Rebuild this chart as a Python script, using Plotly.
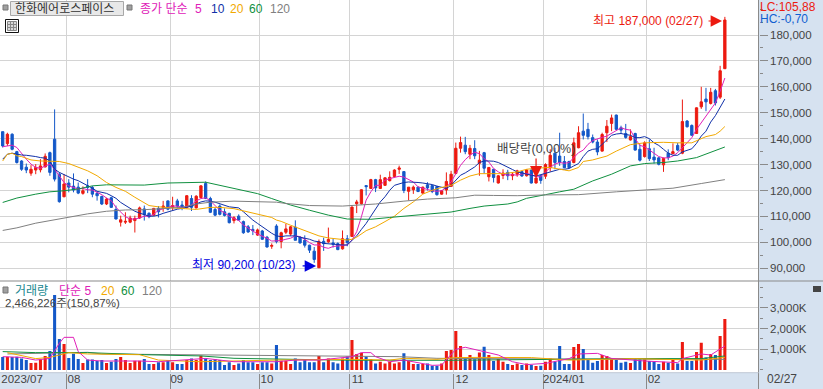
import plotly.graph_objects as go

W, H = 823, 389
# candles, thousands of won, one entry per trading day
opens = [142.7,138.1,141.7,135.0,131.4,129.0,126.7,127.9,128.0,129.1,
134.6,139.8,126.3,117.6,122.9,121.7,121.3,118.9,121.8,121.2,
118.9,117.7,114.8,117.2,112.7,107.8,107.8,107.8,108.4,109.4,
112.9,111.2,110.5,113.1,113.5,116.0,113.5,116.0,114.4,113.5,
116.9,113.3,117.3,122.7,116.9,112.7,114.0,111.8,111.2,108.4,
110.1,108.0,106.0,105.0,102.8,104.4,102.0,98.5,106.3,100.3,
103.9,103.2,105.9,102.0,100.8,98.9,96.6,90.2,100.4,100.2,
99.8,99.5,97.5,101.4,102.3,114.9,114.9,121.9,120.8,124.2,
120.8,122.0,123.8,125.4,128.2,127.3,119.7,120.3,121.3,119.0,
122.2,121.9,121.5,118.6,120.2,121.6,126.6,136.3,137.5,134.0,
136.2,130.5,134.6,125.3,128.2,122.9,125.8,127.0,125.7,126.3,
127.3,125.7,127.9,122.9,125.7,125.5,128.8,134.4,133.3,131.2,
131.2,130.8,136.5,142.9,143.6,140.4,138.7,135.2,142.3,145.9,
149.1,144.2,142.0,139.5,142.0,135.9,133.1,136.1,132.9,132.6,
129.9,134.4,134.2,137.4,134.4,146.8,145.1,142.0,152.3,155.3,
153.6,158.5,156.0,167.0]
closes = [137.2,141.7,135.9,130.8,128.2,127.9,128.2,128.9,129.5,133.2,
127.0,124.4,115.7,122.5,121.3,120.2,119.0,119.9,121.2,118.6,
118.0,114.8,116.7,113.5,109.0,108.7,108.1,109.4,109.2,113.3,
110.7,109.9,113.1,111.8,114.0,112.8,114.2,114.0,113.5,118.0,
113.5,117.8,121.8,116.9,111.6,110.5,110.8,110.4,107.6,109.5,
108.6,103.7,104.0,104.5,104.8,101.2,98.2,98.8,100.3,103.7,
105.2,106.0,100.8,99.8,98.9,97.0,93.4,100.2,99.5,101.1,
99.3,97.2,101.4,99.9,113.6,115.6,120.3,121.5,124.2,121.0,
124.2,124.9,125.1,127.9,128.7,120.0,121.3,121.3,119.6,121.3,
121.0,119.6,118.4,119.9,123.5,126.3,136.3,138.5,135.0,136.3,
133.4,131.7,128.6,128.9,125.0,125.7,126.7,125.7,126.3,127.6,
125.6,127.9,122.9,124.8,123.9,130.0,133.6,130.8,130.8,128.8,
128.8,138.4,142.3,141.3,140.8,138.7,134.9,141.6,144.8,148.0,
143.6,143.3,140.5,140.8,135.6,131.7,138.4,132.3,131.8,130.1,
132.4,132.7,135.0,135.6,146.6,144.6,141.3,151.9,154.2,154.2,
157.9,153.8,166.2,185.8]
highs = [142.7,142.3,142.1,135.3,131.7,130.4,129.8,130.2,132.1,134.3,
135.0,151.3,127.0,126.3,124.4,126.6,123.1,121.6,124.4,121.8,
119.7,118.0,117.2,117.6,114.2,110.3,111.6,110.3,110.3,113.8,
114.2,111.6,113.3,114.0,116.0,116.2,117.6,116.8,116.0,118.2,
118.2,118.2,122.0,123.5,117.6,113.3,114.6,113.1,111.4,110.1,
110.8,108.4,106.7,106.7,105.3,104.8,102.5,99.6,107.0,104.1,
107.1,106.3,108.5,102.3,102.7,99.1,98.2,101.1,101.8,105.7,
101.4,100.0,104.6,102.8,113.9,116.4,120.5,121.9,124.5,124.5,
126.1,125.1,127.4,128.2,129.6,127.3,121.3,121.9,121.5,121.5,
123.2,122.2,121.8,120.2,127.0,127.6,138.5,140.8,140.7,137.6,
139.4,135.3,134.9,128.9,128.2,126.0,128.2,128.0,127.0,128.0,
127.6,128.2,128.1,125.5,126.0,130.5,135.9,136.5,142.3,133.3,
131.5,140.4,144.8,149.7,146.1,141.6,139.7,142.3,147.2,149.3,
149.3,145.0,145.7,143.6,142.3,137.8,139.0,139.7,136.5,132.9,
132.7,135.9,138.2,138.4,155.1,147.2,145.5,152.1,160.0,159.6,
159.6,159.2,168.1,187.0]
lows = [136.6,137.2,135.5,130.4,127.6,126.7,125.7,126.3,127.0,128.9,
125.7,123.5,115.3,117.4,119.3,119.3,118.6,118.4,119.0,117.4,
116.1,114.4,114.4,113.3,108.9,106.1,107.1,107.4,103.8,109.0,
108.4,109.3,110.3,109.6,111.8,112.4,112.4,113.1,112.4,113.1,
112.1,113.1,117.0,116.7,111.3,110.1,110.4,110.0,107.3,107.3,
108.4,103.3,103.7,102.8,102.5,100.9,98.0,97.5,99.6,97.7,
103.2,102.5,100.8,99.5,98.0,95.9,92.1,90.2,96.7,99.8,
98.0,97.0,97.2,98.5,102.1,111.3,114.6,118.1,120.6,119.4,
120.6,121.8,123.5,125.1,126.4,119.0,116.2,118.7,119.4,118.7,
120.0,119.0,118.0,118.4,118.4,121.5,126.3,134.6,134.0,132.1,
132.1,125.7,126.6,123.5,123.1,122.7,124.4,124.0,124.0,125.3,
125.3,125.4,122.7,122.7,122.6,124.5,127.3,128.2,129.5,128.6,
128.6,130.5,136.3,139.7,139.7,138.2,133.6,135.0,138.7,142.9,
143.3,142.0,140.0,139.3,135.4,131.2,132.7,131.4,130.4,129.7,
127.2,131.7,134.2,135.2,134.0,144.3,141.0,141.9,151.5,150.6,
153.2,152.8,155.3,167.0]
# volume, thousands of shares
volumes = [630,640,630,640,560,480,340,350,510,680,
920,3630,1500,1260,580,790,530,340,510,510,
440,480,340,400,530,630,480,340,450,450,
530,290,290,370,370,480,370,290,290,480,
560,480,690,560,480,520,480,240,370,240,
320,480,370,370,290,370,370,320,1210,450,
450,290,560,370,480,370,370,680,370,560,
370,320,560,650,1450,770,840,650,520,320,
400,320,400,320,370,810,450,290,290,290,
320,210,210,320,920,970,1890,1160,560,730,
520,850,1130,730,440,530,400,290,240,320,
240,320,240,190,210,400,560,400,1160,290,
290,1110,1260,1020,520,350,440,730,680,560,
480,350,400,340,520,520,520,440,400,290,
400,350,480,320,1350,440,440,870,1320,610,
770,730,1650,2466]
# price moving averages
ma5 = [136.9,137.3,137.5,136.6,134.3,132.1,130.2,128.9,128.6,129.3,
130.2,128.2,125.7,123.1,121.8,121.2,120.6,120.8,120.3,120.2,
119.3,118.4,117.1,116.1,113.5,111.6,109.9,109.0,109.0,109.4,
110.1,110.1,110.8,112.4,113.1,113.5,114.0,114.0,113.5,113.7,
114.4,116.0,116.9,117.2,116.0,114.0,112.4,111.4,110.1,109.2,
108.4,106.7,105.4,104.4,103.2,102.5,101.6,100.5,100.7,100.7,
101.2,101.6,102.5,102.2,101.2,99.9,99.0,99.0,98.1,97.7,
98.4,98.6,98.9,99.0,100.9,104.1,109.9,116.3,119.5,122.0,
122.0,124.0,124.6,125.2,125.5,125.2,124.2,123.3,121.4,120.8,
120.4,119.9,119.7,119.9,121.2,123.3,126.8,129.7,131.9,133.6,
134.8,134.2,132.3,131.0,128.5,127.2,126.3,125.9,126.1,125.9,
126.4,126.6,126.1,125.3,125.3,127.0,128.9,130.2,130.8,130.5,
130.8,132.7,134.6,135.6,137.8,139.3,140.0,140.5,141.0,142.0,
143.3,144.2,143.6,143.3,140.0,137.4,136.9,135.6,134.1,133.1,
132.6,132.6,133.3,134.6,136.5,138.4,140.4,143.6,146.1,148.4,
151.2,153.8,158.3,163.4]
ma10 = [132.1,134.0,134.4,134.0,133.7,133.6,133.4,133.1,132.7,132.5,
131.4,128.2,127.0,126.1,125.3,124.4,123.8,122.9,121.8,120.9,
119.7,119.3,118.9,118.0,117.0,115.4,114.2,112.9,112.0,111.3,
110.7,110.1,110.1,110.5,111.2,111.8,112.4,112.8,113.1,113.5,
114.0,114.8,115.6,116.0,115.9,115.5,115.0,114.4,113.7,113.5,
113.3,111.8,110.1,108.6,107.3,106.0,104.8,103.5,102.5,102.2,
102.5,102.6,102.5,102.0,101.6,101.2,100.5,100.2,99.6,99.4,
99.3,99.1,99.0,99.0,100.7,102.5,105.0,107.3,110.1,113.1,
115.6,117.6,120.1,122.0,122.7,123.1,123.3,123.3,123.1,122.9,
122.7,122.3,121.7,121.2,120.8,122.0,124.0,125.9,126.8,127.8,
129.1,130.8,131.4,131.4,131.3,130.8,130.0,129.1,128.1,127.2,
126.7,126.3,125.9,125.6,126.1,126.7,127.2,127.9,128.2,128.2,
128.5,129.5,130.4,133.1,135.2,135.9,136.1,137.8,139.5,141.3,
141.8,142.0,141.6,141.3,140.4,140.4,140.8,140.0,138.4,137.4,
135.9,134.4,133.6,133.6,134.9,135.6,136.1,138.2,141.0,142.9,
146.4,148.9,151.9,155.3]
ma20_idx = [0,1,2,3,4,6,8,10,12,14,16,18,20,22,24,26,28,30,31,33,35,38,41,44,46,49,52,54,57,58,59,61,63,65,67,69,71,73,74,75,77,79,81,83,85,87,89,91,93,95,97,99,101,103,106,109,111,113,116,119,120,122,123,125,128,130,133,136,140,143,146,149,151,152,153]
ma20 = [131.4,134.0,134.4,133.4,133.1,131.8,131.4,131.4,131.2,130.4,128.9,127.6,125.7,123.1,121.2,119.7,117.4,115.4,114.2,113.7,113.5,113.0,112.7,113.5,113.5,113.0,111.8,110.9,109.6,108.6,108.1,106.6,105.3,103.7,102.5,101.7,101.2,100.9,101.2,102.0,104.5,106.0,108.0,110.1,113.1,115.6,118.6,120.1,121.2,122.0,124.0,125.6,126.5,126.5,126.5,127.2,128.2,128.6,128.9,127.9,127.6,128.9,131.2,131.8,133.3,135.2,137.7,138.4,138.6,138.4,138.4,140.8,141.6,142.9,144.7]
ma60_idx = [0,3,7,10,13,16,19,22,30,35,43,49,54,57,61,65,69,73,78,82,87,92,95,99,102,107,109,111,113,115,118,121,125,129,133,136,140,143,147,150,153]
ma60 = [115.4,117.1,118.6,119.5,119.9,120.6,121.8,122.2,122.1,122.9,123.2,120.8,118.8,116.9,114.4,112.4,110.5,109.0,108.9,109.6,110.5,111.4,111.7,113.1,114.0,114.8,115.6,117.0,117.6,118.4,119.5,120.5,123.7,126.3,129.5,130.4,130.8,131.4,132.7,134.9,136.8]
ma120_idx = [0,3,7,10,14,18,22,26,30,31,38,41,44,49,55,58,60,65,72,79,85,90,96,100,104,109,115,122,130,138,142,148,153]
ma120 = [104.6,105.6,107.4,108.4,109.9,111.0,112.0,112.5,112.6,112.7,113.5,114.8,115.5,115.9,115.8,115.5,115.0,114.2,114.0,114.8,115.9,116.7,117.2,118.2,118.1,118.0,118.3,118.4,119.5,120.4,120.9,122.7,124.2]
# volume moving averages, thousands of shares
vma5_idx = [0,4,7,10,12,13,15,16,18,21,29,33,43,49,58,62,67,74,76,78,79,82,85,91,93,96,98,101,105,108,111,115,120,122,126,129,136,143,144,148,150,153]
vma5 = [645,610,480,560,1290,1580,1580,890,480,435,435,400,560,400,400,480,480,645,840,840,645,400,480,225,240,1000,1100,935,725,400,260,320,550,775,805,560,435,355,550,775,725,1160]
vma20_idx = [1,4,7,10,14,18,29,33,42,58,74,82,85,92,96,101,112,120,134,140,148,153]
vma20 = [840,680,550,610,840,775,740,480,400,480,515,480,565,515,600,610,600,480,550,515,480,610]
vma60_idx = [0,7,18,30,42,49,58,74,95,112,134,148,153]
vma60 = [890,840,840,740,680,565,530,470,470,515,550,550,680]
vma120_idx = [1,7,18,21,42,56,68,84,92,112,117,153]
vma120 = [775,805,855,775,740,710,680,645,565,565,530,515]
# axes
month_grid = [13.5,35.5,54.5,73.5,95.5,114.5,136.5]
month_label_pos = [4.1,15.1,36.9,56.0,75.2,97.3,118.9,138.0]
month_labels = ['2023/07','08','09','10','11','12','2024/01','02']
price_ticks = [90,100,110,120,130,140,150,160,170,180]
volume_ticks = [1000,2000,3000]
volume_labels = ['1,000K','2,000K','3,000K']

RED, BLUE = '#ec1a10', '#1458c8'
MAG, NAVY, ORG, GRN, GRY = '#e020b8', '#1030a8', '#f2a900', '#109040', '#808080'
GRID, PANEL, AX = '#d4d4d4', '#d6e2f0', '#8a8a8a'
FONT = 'Liberation Sans, Noto Sans CJK KR'
XD = [0, 758.7 / W]

n = len(closes)
idx = list(range(n))
k = lambda a: [v * 1000 for v in a]

fig = go.Figure()
fig.add_trace(go.Candlestick(x=idx, open=k(opens), high=k(highs), low=k(lows), close=k(closes),
    whiskerwidth=0, xaxis='x', yaxis='y', hoverinfo='skip',
    increasing=dict(line=dict(color=RED, width=1), fillcolor=RED),
    decreasing=dict(line=dict(color=BLUE, width=1), fillcolor=BLUE)))
for ix, vals, col in [(idx, ma5, MAG), (idx, ma10, NAVY), (ma20_idx, ma20, ORG), (ma60_idx, ma60, GRN), (ma120_idx, ma120, GRY)]:
    fig.add_trace(go.Scatter(x=ix, y=k(vals), mode='lines', line=dict(color=col, width=1), xaxis='x', yaxis='y', hoverinfo='skip'))
fig.add_trace(go.Bar(x=idx, y=volumes, marker=dict(color=[RED if c >= o else BLUE for o, c in zip(opens, closes)], line_width=0),
    xaxis='x2', yaxis='y2', hoverinfo='skip'))
for ix, vals, col in [(vma120_idx, vma120, GRY), (vma60_idx, vma60, GRN), (vma20_idx, vma20, ORG), (vma5_idx, vma5, MAG)]:
    fig.add_trace(go.Scatter(x=ix, y=vals, mode='lines', line=dict(color=col, width=1), xaxis='x2', yaxis='y2', hoverinfo='skip'))
fig.add_trace(go.Scatter(x=month_label_pos, y=[0] * len(month_label_pos), mode='markers', opacity=0, xaxis='x3', yaxis='y2', hoverinfo='skip'))


def px(x): return x / W
def py(y): return 1 - y / H


def text(x, y, s, color, size=12, anchor='left', **kw):
    fig.add_annotation(xref='paper', yref='paper', x=px(x), y=py(y), text=s, showarrow=False, xanchor=anchor, yanchor='middle',
                       font=dict(family=FONT, size=size, color=color), borderpad=0, **kw)


def rect(x0, y0, x1, y1, fill=None, line=None, layer='above', lw=1):
    fig.add_shape(type='rect', xref='paper', yref='paper', x0=px(x0), x1=px(x1), y0=py(y0), y1=py(y1),
                  fillcolor=fill, line=dict(color=line, width=lw if line else 0), layer=layer)


def hline(x0, x1, y, col, lw=1):
    fig.add_shape(type='line', xref='paper', yref='paper', x0=px(x0), x1=px(x1), y0=py(y), y1=py(y), line=dict(color=col, width=lw))


def vline(x, y0, y1, col, lw=1):
    fig.add_shape(type='line', xref='paper', yref='paper', x0=px(x), x1=px(x), y0=py(y0), y1=py(y1), line=dict(color=col, width=lw))


rect(758.7, 0, W, H, PANEL, None, 'below')
rect(0, 372.7, W, H, PANEL, None, 'below')
vline(758.5, 0, H, AX)
hline(0, W, 281, AX, 1.2)
hline(0, 758.7, 372.7, '#c0c8d4')

# header
rect(3, 5, 8, 10, '#a0a0a0', '#777777')
rect(10.5, 1.5, 123.5, 15.5, '#e8e8e8', '#a8a8a8')
text(14, 9, '한화에어로스페이스', '#333333', 12)
rect(127, 5, 132, 10, '#a0a0a0', '#777777')
text(139, 9, '종가 단순', MAG, 12)
text(194, 9, '5', MAG, 12)
text(210, 9, '10', NAVY, 12)
text(229, 9, '20', ORG, 12)
text(248, 9, '60', GRN, 12)
text(269, 9, '120', GRY, 12)
rect(5.5, 19.5, 18.5, 32.5, '#ffffff', '#111111')
rect(7.5, 21.5, 16.5, 30.5, '#d8d8d8', '#888888')
vline(10.5, 21.5, 30.5, '#888888'); vline(13.5, 21.5, 30.5, '#888888')
hline(7.5, 16.5, 24.5, '#888888'); hline(7.5, 16.5, 27.5, '#888888')
text(759, 7, 'LC:105,88', '#ec1a10', 12)
text(759, 19, 'HC:-0,70', '#1060d0', 12)

# price notes
text(592, 21, '최고 187,000 (02/27)', RED, 12)
fig.add_annotation(xref='x', yref='y', x=152.4, y=185400, ax=-15, ay=0, text='', showarrow=True, arrowhead=2, arrowsize=1.9, arrowwidth=1.2, arrowcolor=RED)
text(191, 265, '최저 90,200 (10/23)', '#0000e0', 12)
fig.add_annotation(xref='x', yref='y', x=66.4, y=90900, ax=-15, ay=0, text='', showarrow=True, arrowhead=2, arrowsize=1.9, arrowwidth=1.2, arrowcolor='#0000e0')
text(496, 149, '배당락(0,00%)', '#444444', 12.5)
fig.add_annotation(xref='x', yref='y', x=113, y=124800, ax=0, ay=-21, text='', showarrow=True, arrowhead=2, arrowsize=2, arrowwidth=1.2, arrowcolor=RED)

# volume notes
rect(3, 287, 8, 293, '#a0a0a0', '#777777')
text(14, 291, '거래량', '#208890', 12)
text(58, 291, '단순 5', MAG, 12)
text(100, 291, '20', ORG, 12)
text(120, 291, '60', GRN, 12)
text(141, 291, '120', GRY, 12)
text(4, 303, '2,466,226주(150,87%)', '#444444', 11.5)
rect(813, 286, 821, 292, '#444444', None)
text(782, 379, '02/27', '#444444', 12, 'center')

tick_font = dict(family=FONT, size=11.5, color='#444444')
fig.update_layout(
    width=W, height=H, margin=dict(l=0, r=0, t=0, b=0), autosize=False, showlegend=False,
    paper_bgcolor='#ffffff', plot_bgcolor='#ffffff', boxgap=0.3, bargap=0.35,
    xaxis=dict(domain=XD, range=[-0.57, 160.17], anchor='y', tickmode='array', tickvals=month_grid, showticklabels=False,
               showgrid=True, gridcolor=GRID, gridwidth=1, zeroline=False, ticks='', rangeslider=dict(visible=False)),
    xaxis2=dict(domain=XD, range=[-0.57, 160.17], anchor='y2', tickmode='array', tickvals=month_grid, showticklabels=False,
                showgrid=True, gridcolor=GRID, gridwidth=1, zeroline=False, ticks='outside', ticklen=17, tickcolor=AX, tickwidth=1),
    xaxis3=dict(domain=XD, range=[-0.57, 160.17], anchor='y2', overlaying='x2', side='bottom', tickmode='array', tickvals=month_label_pos,
                ticktext=month_labels, showgrid=False, zeroline=False, ticks='', tickfont=tick_font, ticklabelstandoff=-2),
    yaxis=dict(domain=[1 - 281 / H, 1], range=[85093, 193503], side='right', anchor='x', tickmode='array', tickvals=[v * 1000 for v in price_ticks],
               tickformat=',d', showgrid=True, gridcolor=GRID, gridwidth=1, zeroline=False, ticks='outside', ticklen=8, tickcolor=AX,
               tickfont=tick_font, minor=dict(dtick=5000, tick0=0, ticks='outside', ticklen=3, tickcolor=AX, showgrid=False)),
    yaxis2=dict(domain=[1 - 372.7 / H, 1 - 282 / H], range=[-131, 4257], side='right', anchor='x2', tickmode='array', tickvals=volume_ticks,
                ticktext=volume_labels, showgrid=True, gridcolor=GRID, gridwidth=1, zeroline=False, ticks='outside', ticklen=8, tickcolor=AX,
                tickfont=tick_font, minor=dict(dtick=500, tick0=0, ticks='outside', ticklen=3, tickcolor=AX, showgrid=False)),
)
fig.write_html('out.html', config=dict(displayModeBar=False),
               post_script="document.documentElement.style.margin='0';document.body.style.margin='0';document.body.style.overflow='hidden';")
